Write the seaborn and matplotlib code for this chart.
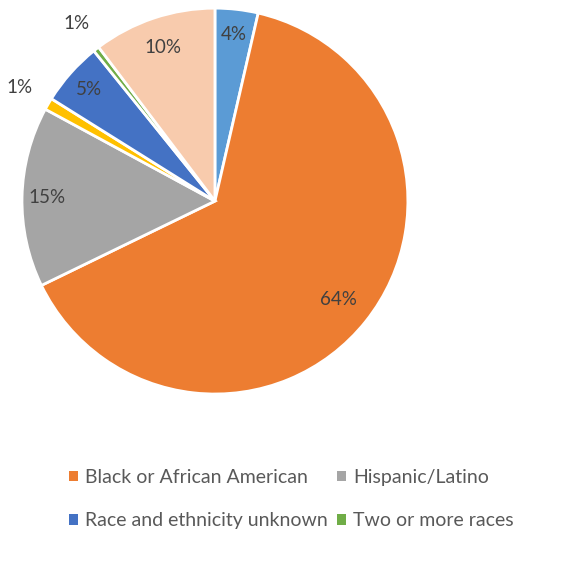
import matplotlib
matplotlib.use('Agg')
import matplotlib.pyplot as plt
import numpy as np
import seaborn as sns
from matplotlib.patches import Patch

# Shares, clockwise from 12 o'clock
groups = ['Asian', 'Black or African American', 'Hispanic/Latino',
          'American Indian or Alaska Native', 'Race and ethnicity unknown',
          'Two or more races', 'White']
shares = [3.6, 64.2, 15.1, 1.0, 5.3, 0.5, 10.3]
labels = ['4%', '64%', '15%', '1%', '5%', '1%', '10%']
colors = ['#5B9BD5', '#ED7D31', '#A5A5A5', '#FFC000', '#4472C4', '#70AD47', '#F8CBAD']
# legend is filled column by column
legend_groups = ['Black or African American', 'Race and ethnicity unknown',
                 'Hispanic/Latino', 'Two or more races']
label_r = [0.87, 0.82, 0.87, 1.17, 0.87, 1.17, 0.84]  # tiny slices labelled outside

sns.set_style('white')
plt.rcParams['font.family'] = ['Lato', 'DejaVu Sans']

fig = plt.figure(figsize=(5.7, 5.77), dpi=100)
ax = fig.add_axes([0.0386, 0.317, 0.677, 0.669])

wedges, _ = ax.pie(shares, colors=colors, startangle=90, counterclock=False,
                   wedgeprops=dict(edgecolor='white', linewidth=2))
ax.set_xlim(-1, 1)
ax.set_ylim(-1, 1)
ax.set_aspect('equal')

for i, w in enumerate(wedges):
    mid = np.deg2rad((w.theta1 + w.theta2) / 2)
    r = label_r[i]
    ax.text(r * np.cos(mid), r * np.sin(mid), labels[i], ha='center', va='center',
            fontsize=13.5, color='#404040', clip_on=False)

handles = [Patch(facecolor=colors[groups.index(g)], edgecolor='none', label=g)
           for g in legend_groups]
fig.legend(handles=handles, loc='upper left', bbox_to_anchor=(0.09, 0.218), ncol=2,
           frameon=False, fontsize=14, labelcolor='#595959', handlelength=0.45,
           handleheight=0.45, handletextpad=0.4, columnspacing=0.45, labelspacing=1.37)

plt.savefig('out.png', dpi=100)
